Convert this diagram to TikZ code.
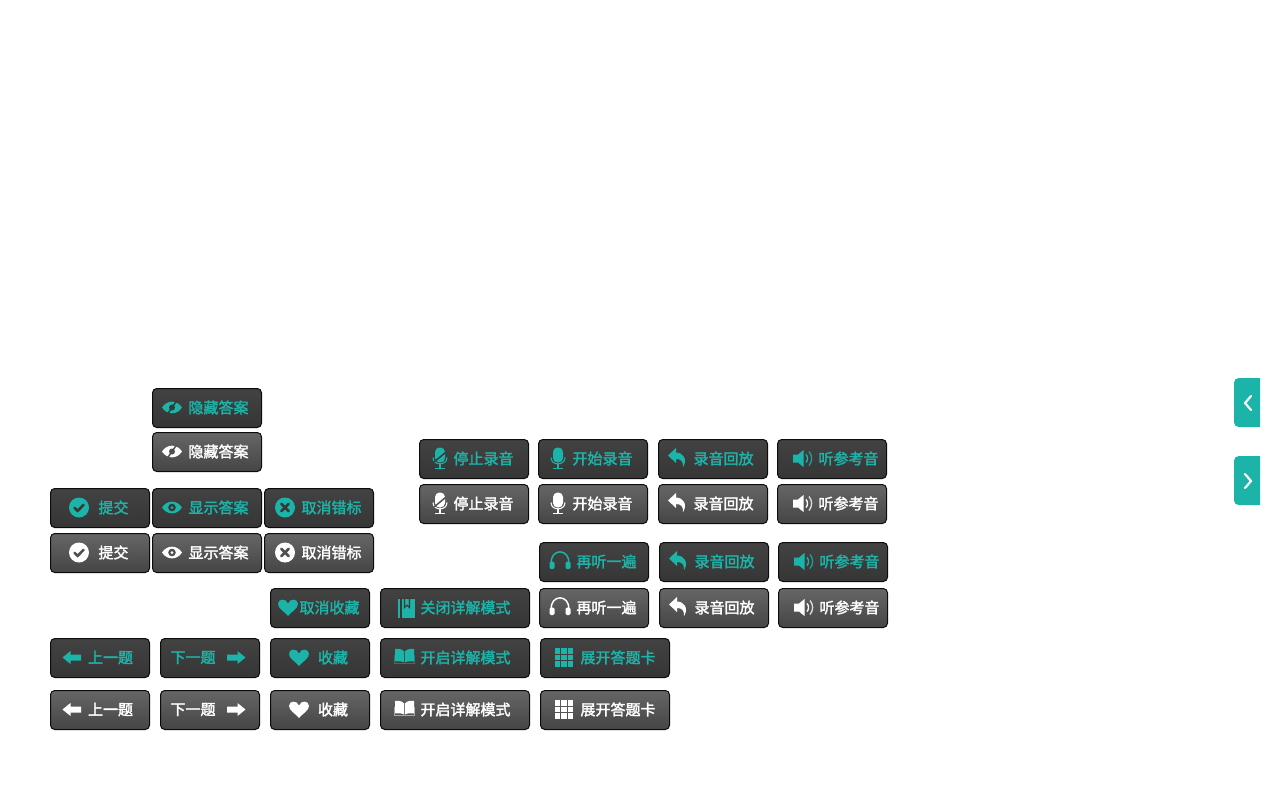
\documentclass[tikz,border=0pt]{standalone}
\usepackage{fontspec}
\setmainfont{Noto Sans CJK SC}[FakeBold=2]
\definecolor{tealc}{HTML}{1CB4A9}
\colorlet{icd}{tealc}
\colorlet{icl}{white}
\definecolor{ibd}{HTML}{383838}
\definecolor{ibl}{HTML}{505050}
\definecolor{edgec}{HTML}{0C0C0C}
\tikzset{
  btnbase/.style={draw=edgec,line width=0.75pt,rounded corners=3.2pt,inner sep=0pt,outer sep=0pt,anchor=center,minimum height=29.25pt},
  btnd/.style={btnbase,top color=black!74,bottom color=black!79},
  btnl/.style={btnbase,top color=black!60,bottom color=black!73},
  lbl/.style={font=\fontsize{11.25}{13}\selectfont,inner sep=0pt,anchor=center},
  thin1/.style={line width=0.8pt},
  tab/.style={fill=tealc,draw=none},
  chev/.style={draw=white,line width=1.6pt,line cap=round,line join=miter}
}
\newcommand\eyepath{(-10,0) .. controls (-5,-7.8) and (5,-7.8) .. (10,0) .. controls (5,7.8) and (-5,7.8) .. (-10,0) -- cycle}
\newcommand\icCheck{\fill[ic] (0,0) circle (10);\draw[ib,line width=1.9pt,line cap=round] (-4.5,0.3)--(-1.3,3.4)--(4.6,-2.8);}
\newcommand\icCross{\fill[ic] (0,0) circle (10);\draw[ib,line width=2pt,line cap=round] (-3.6,-3.6)--(3.6,3.6) (-3.6,3.6)--(3.6,-3.6);}
\newcommand\icEye{\fill[ic] \eyepath;\fill[ib] (0,0) circle (3.8);\fill[ic] (0,0) circle (1.5);}
\newcommand\icEyeS{\fill[ic] \eyepath;\fill[ib] (0,0) circle (3);\draw[ib,line width=1.1pt] (4.5,-6.5)--(-4.5,6.5);}
\newcommand\icMic{\fill[ic,rounded corners=3.4pt] (-5,-11) rectangle (5,4);
  \draw[ic,thin1] (-7,-1) .. controls (-7,7.5) and (7,7.5) .. (7,-1);
  \draw[ic,line width=1.2pt] (0,5)--(0,9.5);\draw[ic,line width=1.1pt] (-5,10)--(5,10);}
\newcommand\icMicS{\icMic\draw[ib,line width=1.1pt] (5.5,-6)--(-6,3.5);}
\newcommand\icReply{\fill[ic] (-9,-3)--(-1,-10.5)--(-1,-6) .. controls (6,-6) and (11,1) .. (6,8.5) .. controls (6.5,3) and (4,0.5) .. (-1,0.5) -- (-1,4.5) -- cycle;}
\newcommand\icSpeak{\fill[ic] (-10,-4)--(-5,-4)--(0.5,-8.5)--(0.5,8.5)--(-5,4)--(-10,4)--cycle;
  \draw[ic,line width=1pt] (3,-4) .. controls (5,-2) and (5,2) .. (3,4);
  \draw[ic,line width=1pt,opacity=.8] (6,-7) .. controls (9.5,-3) and (9.5,3) .. (6,7);}
\newcommand\icPhones{\draw[ic,line width=1.1pt] (-8.7,2) .. controls (-10,-13.5) and (10,-13.5) .. (8.7,2);
  \fill[ic,rounded corners=1pt] (-10.5,0) rectangle (-5.5,7.5);\fill[ic,rounded corners=1pt] (5.5,0) rectangle (10.5,7.5);}
\newcommand\icHeart{\fill[ic] (0,8.5) .. controls (-3,4.5) and (-10,1) .. (-10,-3.5) .. controls (-10,-9) and (-2,-9.5) .. (0,-4) .. controls (2,-9.5) and (10,-9) .. (10,-3.5) .. controls (10,1) and (3,4.5) .. (0,8.5) -- cycle;}
\newcommand\icBook{\fill[ic] (-8,-10) rectangle (8.5,10);\draw[ib,thin1] (-5,-9) -- (-5,10);\draw[ib,thin1] (-8,-8.8)--(8.5,-8.8);
  \draw[ib,thin1] (-1.5,-9)--(-1.5,0)--(1,-2.5)--(3.5,0)--(3.5,-9);}
\newcommand\icOpen{\fill[ic] (-0.4,-6) .. controls (-3,-9) and (-7,-9) .. (-9.5,-8.5) -- (-9.5,4) .. controls (-7,3.5) and (-3,3.5) .. (-0.4,5) -- cycle;
  \fill[ic] (0.4,-6) .. controls (3,-9) and (7,-9) .. (9.5,-8.5) -- (9.5,4) .. controls (7,3.5) and (3,3.5) .. (0.4,5) -- cycle;
  \draw[ic,thin1,opacity=.5] (-10,-3) -- (-10,6) -- (10,6) -- (10,-3);}
\newcommand\icGrid{\foreach \i in {-1,0,1}{\foreach \j in {-1,0,1}{\fill[ic] ({6.4*\i-2.75},{6.4*\j-2.75}) rectangle ++(5.5,5.5);}}}
\newcommand\icLeft{\fill[ic] (-9.5,0)--(-1.5,-6.5)--(-1.5,-3)--(9,-3)--(9,3)--(-1.5,3)--(-1.5,6.5)--cycle;}
\newcommand\icRight{\fill[ic] (9.5,0)--(1.5,-6.5)--(1.5,-3)--(-9,-3)--(-9,3)--(1.5,3)--(1.5,6.5)--cycle;}
% id, x, y, w, state(d/l), text, text centre x, icon, icon centre x
\newcommand\btn[9]{%
  \node[btn#5,minimum width={(#4-1)*0.75pt}] (b#1) at ({#2+#4/2},{#3+20}) {};
  \colorlet{ic}{ic#5}\colorlet{ib}{ib#5}%
  \node[lbl,text=ic] (t#1) at ({#7-0.5},{#3+19.5}) {#6};
  \begin{scope}[shift={(#9,{#3+19.5})}]\csname ic#8\endcsname\end{scope}
}
\begin{document}
\begin{tikzpicture}[x=0.75pt,y=-0.75pt]
\useasboundingbox (0,0) rectangle (1280,800);
\fill[white] (0,0) rectangle (1280,800);
\btn{a1}{152}{388}{110}{d}{隐藏答案}{219}{EyeS}{172}
\btn{a2}{152}{432}{110}{l}{隐藏答案}{219}{EyeS}{172}
\btn{b1}{50}{488}{100}{d}{提交}{114}{Check}{79}
\btn{b2}{152}{488}{110}{d}{显示答案}{219}{Eye}{172}
\btn{b3}{264}{488}{110}{d}{取消错标}{332}{Cross}{285}
\btn{c1}{50}{533}{100}{l}{提交}{114}{Check}{79}
\btn{c2}{152}{533}{110}{l}{显示答案}{219}{Eye}{172}
\btn{c3}{264}{533}{110}{l}{取消错标}{332}{Cross}{285}
\btn{d1}{419}{439}{110}{d}{停止录音}{484}{MicS}{440}
\btn{d2}{538}{439}{110}{d}{开始录音}{603}{Mic}{558}
\btn{d3}{658}{439}{110}{d}{录音回放}{724}{Reply}{677}
\btn{d4}{777}{439}{110}{d}{听参考音}{849}{Speak}{803}
\btn{e1}{419}{484}{110}{l}{停止录音}{484}{MicS}{440}
\btn{e2}{538}{484}{110}{l}{开始录音}{603}{Mic}{558}
\btn{e3}{658}{484}{110}{l}{录音回放}{724}{Reply}{677}
\btn{e4}{777}{484}{110}{l}{听参考音}{849}{Speak}{803}
\btn{f1}{539}{542}{110}{d}{再听一遍}{607}{Phones}{560}
\btn{f2}{659}{542}{110}{d}{录音回放}{725}{Reply}{678}
\btn{f3}{778}{542}{110}{d}{听参考音}{850}{Speak}{804}
\btn{g1}{539}{588}{110}{l}{再听一遍}{607}{Phones}{560}
\btn{g2}{659}{588}{110}{l}{录音回放}{725}{Reply}{678}
\btn{g3}{778}{588}{110}{l}{听参考音}{850}{Speak}{804}
\btn{h1}{270}{588}{100}{d}{取消收藏}{330}{Heart}{288}
\btn{h2}{380}{588}{150}{d}{关闭详解模式}{466}{Book}{406}
\btn{i1}{50}{638}{100}{d}{上一题}{111}{Left}{72}
\btn{i2}{160}{638}{100}{d}{下一题}{193.5}{Right}{236}
\btn{i3}{270}{638}{100}{d}{收藏}{333.5}{Heart}{299}
\btn{i4}{380}{638}{150}{d}{开启详解模式}{466}{Open}{404.5}
\btn{i5}{540}{638}{130}{d}{展开答题卡}{618.5}{Grid}{564}
\btn{j1}{50}{690}{100}{l}{上一题}{111}{Left}{72}
\btn{j2}{160}{690}{100}{l}{下一题}{193.5}{Right}{236}
\btn{j3}{270}{690}{100}{l}{收藏}{333.5}{Heart}{299}
\btn{j4}{380}{690}{150}{l}{开启详解模式}{466}{Open}{404.5}
\btn{j5}{540}{690}{130}{l}{展开答题卡}{618.5}{Grid}{564}
% side tabs
\path[tab] (1260,378) [rounded corners=3.5pt] -- (1234,378) -- (1234,427) [sharp corners] -- (1260,427) -- cycle;
\path[tab] (1260,456) [rounded corners=3.5pt] -- (1234,456) -- (1234,505) [sharp corners] -- (1260,505) -- cycle;
\draw[chev] (1251,396)--(1245,403)--(1251,410);
\draw[chev] (1245,474)--(1251,481)--(1245,488);
\end{tikzpicture}
\end{document}
